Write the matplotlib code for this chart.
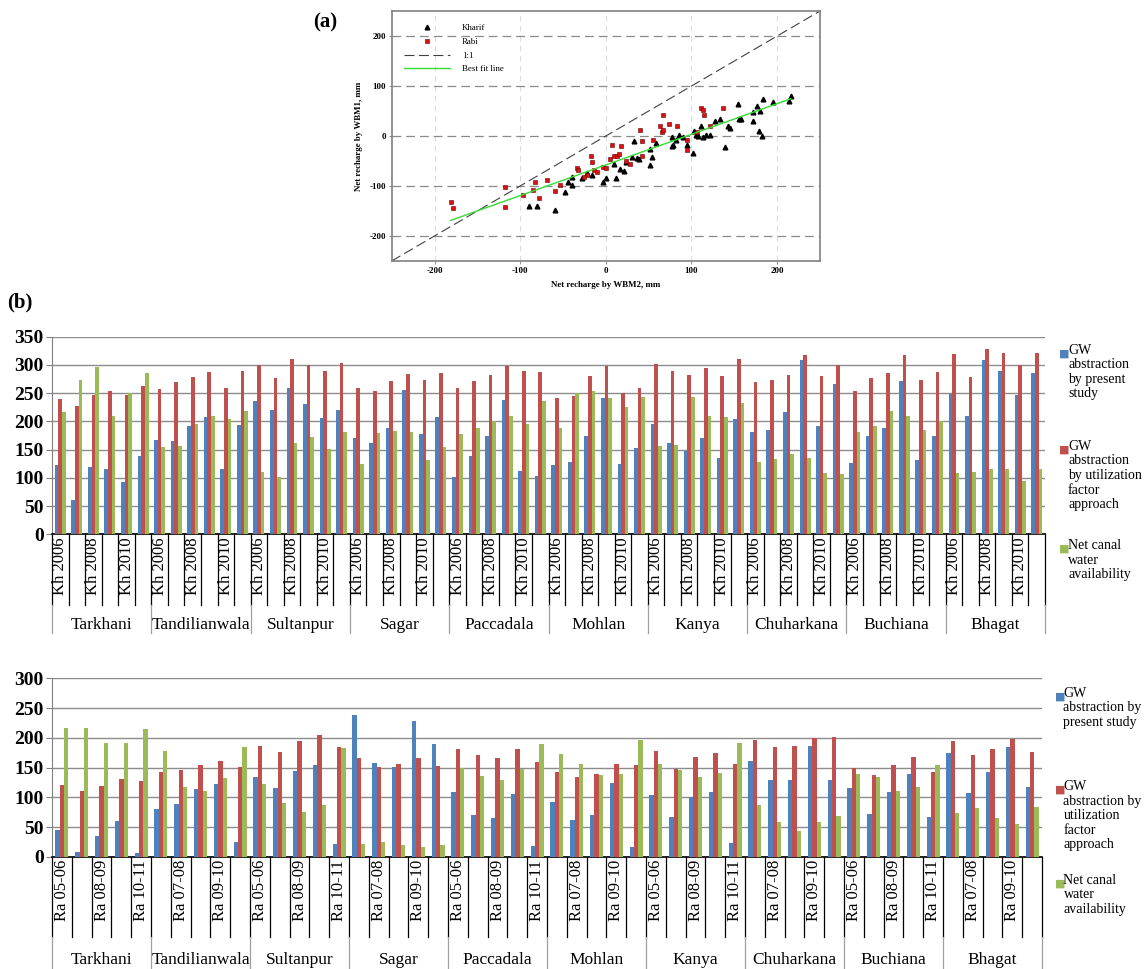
import numpy as np
import matplotlib
matplotlib.use('Agg')
import matplotlib.pyplot as plt
import matplotlib.transforms as mtransforms

plt.rcParams['font.family'] = 'serif'
plt.rcParams['font.serif'] = ['Liberation Serif', 'DejaVu Serif']
plt.rcParams['axes.unicode_minus'] = False

# ---------------- data ----------------
stations = ['Tarkhani', 'Tandilianwala', 'Sultanpur', 'Sagar', 'Paccadala',
            'Mohlan', 'Kanya', 'Chuharkana', 'Buchiana', 'Bhagat']
kh_seasons = ['Kh 2006', 'Kh 2007', 'Kh 2008', 'Kh 2009', 'Kh 2010', 'Kh 2011']
ra_seasons = ['Ra 05-06', 'Ra 07-08', 'Ra 08-09', 'Ra 09-10', 'Ra 10-11']

kh_present = [123, 60, 119, 116, 92, 138,
              167, 165, 191, 207, 116, 194,
              237, 220, 259, 230, 206, 220,
              170, 161, 188, 256, 178, 208,
              102, 138, 175, 238, 112, 103,
              123, 128, 174, 241, 125, 153,
              195, 161, 148, 170, 136, 204,
              181, 185, 217, 309, 192, 267,
              126, 174, 189, 272, 132, 175,
              249, 210, 309, 289, 247, 286]
kh_util = [239, 227, 247, 254, 246, 263,
           258, 270, 279, 287, 260, 290,
           300, 277, 311, 300, 290, 304,
           260, 253, 271, 284, 273, 286,
           260, 272, 283, 298, 289, 287,
           242, 245, 280, 299, 250, 260,
           301, 289, 283, 295, 280, 310,
           270, 274, 283, 318, 280, 300,
           253, 277, 286, 318, 273, 287,
           319, 279, 329, 322, 300, 321]
kh_canal = [217, 274, 296, 210, 251, 286,
            154, 156, 196, 210, 204, 218,
            110, 101, 162, 173, 151, 182,
            125, 179, 183, 181, 132, 154,
            178, 189, 200, 210, 195, 237,
            189, 250, 253, 241, 225, 243,
            156, 158, 243, 210, 207, 232,
            128, 133, 142, 135, 109, 106,
            181, 192, 218, 210, 184, 200,
            109, 110, 115, 115, 94, 115]

ra_present = [45, 9, 36, 61, 7,
              80, 89, 114, 122, 25,
              134, 116, 144, 155, 21,
              238, 157, 151, 228, 190,
              109, 71, 65, 106, 18,
              93, 62, 70, 124, 16,
              104, 67, 101, 109, 24,
              161, 130, 129, 186, 129,
              115, 73, 109, 140, 67,
              175, 107, 142, 184, 118]
ra_util = [121, 110, 119, 131, 128,
           142, 146, 154, 161, 151,
           187, 176, 194, 204, 184,
           166, 151, 156, 167, 153,
           181, 172, 166, 181, 159,
           142, 134, 139, 156, 154,
           178, 148, 168, 175, 156,
           196, 185, 186, 199, 201,
           150, 138, 154, 168, 143,
           195, 171, 182, 198, 176]
ra_canal = [217, 217, 192, 192, 215,
            178, 118, 111, 132, 185,
            122, 90, 75, 88, 183,
            22, 25, 20, 17, 20,
            149, 136, 129, 147, 190,
            173, 156, 137, 139, 196,
            156, 146, 134, 141, 191,
            87, 59, 44, 59, 69,
            140, 134, 111, 118, 154,
            74, 82, 65, 55, 84]

kharif_x = [-90, -80, -59, -48, -44, -39, -39, -28, -22, -16, -3, 0, 10, 12, 17,
            21, 23, 31, 33, 36, 39, 52, 52, 54, 58, 77, 79, 77, 82, 86, 90, 95,
            102, 103, 105, 108, 111, 113, 117, 122, 127, 133, 139, 143, 145, 154,
            155, 158, 172, 172, 177, 179, 180, 182, 184, 195, 214, 216]
kharif_y = [-140, -140, -148, -112, -92, -99, -82, -85, -75, -79, -92, -85, -56,
            -84, -66, -70, -52, -43, -10, -45, -46, -59, -26, -43, -15, -21, -19,
            -2, -8, 1, -3, -19, -34, 11, 2, -1, 21, -2, 2, 1, 31, 35, -22, 21, 17,
            65, 35, 34, 30, 49, 61, 10, 50, 0, 74, 69, 70, 81]
rabi_x = [-181, -179, -118, -118, -97, -83, -85, -78, -69, -59, -54, -34, -33,
          -22, -26, -17, -16, -14, -10, -3, 0, 5, 7, 10, 13, 15, 18, 24, 28, 40,
          42, 42, 55, 63, 66, 67, 67, 74, 83, 95, 95, 111, 113, 115, 106, 122, 137]
rabi_y = [-132, -144, -102, -142, -119, -92, -108, -125, -89, -110, -98, -65, -68,
          -79, -83, -41, -53, -68, -73, -63, -64, -47, -19, -40, -40, -37, -20, -50,
          -56, 12, -10, -41, -8, 21, 9, 43, 13, 24, 20, -28, -9, 57, 52, 42, 9, 21, 57]

c_blue = '#4F81BD'
c_red = '#C0504D'
c_green = '#9BBB59'

fig = plt.figure(figsize=(11.46, 9.69), dpi=100)

# ---------------- panel (a) ----------------
ax_a = fig.add_axes([0.3418, 0.7307, 0.3737, 0.2579])
ax_a.set_xlim(-250, 250)
ax_a.set_ylim(-250, 250)
ax_a.set_xticks([-200, -100, 0, 100, 200])
ax_a.set_yticks([-200, -100, 0, 100, 200])
ax_a.yaxis.grid(True, color='#8a8a8a', linestyle=(0, (7, 4)), linewidth=0.9)
ax_a.xaxis.grid(True, color='#dddddd', linestyle=(0, (5, 4)), linewidth=0.8)
ax_a.set_axisbelow(True)
ax_a.plot([-250, 250], [-250, 250], color='#404040', linestyle=(0, (9, 4)),
          linewidth=0.8, label='1:1', zorder=2)
ax_a.plot(kharif_x, kharif_y, '^', color='black', markersize=3.4,
          linestyle='none', label='Kharif', zorder=3)
ax_a.plot(rabi_x, rabi_y, 's', color='#e01010', markeredgecolor='#600000',
          markeredgewidth=0.4, markersize=3.5, linestyle='none', label='Rabi', zorder=3)
all_x = np.array(kharif_x + rabi_x)
all_y = np.array(kharif_y + rabi_y)
slope, icpt = np.polyfit(all_x, all_y, 1)
fx = np.array([all_x.min(), all_x.max()])
ax_a.plot(fx, slope * fx + icpt, color='#33dd33', linewidth=1.0,
          label='Best fit line', zorder=4)
for s in ax_a.spines.values():
    s.set_color('#808080')
    s.set_linewidth(1.2)
ax_a.tick_params(labelsize=6.5, length=2, width=0.6, color='#808080', pad=2)
for lab in ax_a.get_xticklabels() + ax_a.get_yticklabels():
    lab.set_fontweight('bold')
ax_a.set_xlabel('Net recharge by WBM2, mm', fontsize=6.4, fontweight='bold', labelpad=5)
ax_a.set_ylabel('Net recharge by WBM1, mm', fontsize=6.4, fontweight='bold', labelpad=5)
h, l = ax_a.get_legend_handles_labels()
order = [1, 2, 0, 3]
ax_a.legend([h[i] for i in order], [l[i] for i in order], loc='upper left',
            frameon=False, fontsize=6.4, handlelength=5.2, handletextpad=1.3,
            labelspacing=0.62, bbox_to_anchor=(0.01, 0.98))
fig.text(0.273, 0.977, '(a)', fontsize=15, fontweight='bold', va='center')
fig.text(0.006, 0.688, '(b)', fontsize=15, fontweight='bold', va='center')


# ---------------- bar panels ----------------
def bar_panel(rect, present, util, canal, seasons, ymax, cat_depth, st_depth, st_y):
    ax = fig.add_axes(rect)
    n_per = len(seasons)
    n = n_per * len(stations)
    x = np.arange(n)
    w = 0.22
    ax.bar(x - w, present, w, color=c_blue, zorder=3)
    ax.bar(x, util, w, color=c_red, zorder=3)
    ax.bar(x + w, canal, w, color=c_green, zorder=3)
    ax.set_xlim(-0.5, n - 0.5)
    ax.set_ylim(0, ymax)
    ax.set_yticks(np.arange(0, ymax + 1, 50))
    ax.yaxis.grid(True, color='#8c8c8c', linewidth=1.0)
    ax.set_axisbelow(True)
    for side in ['top', 'right']:
        ax.spines[side].set_visible(False)
    ax.spines['left'].set_color('#808080')
    ax.spines['bottom'].set_linewidth(1.2)
    ax.tick_params(axis='y', labelsize=14, length=4, color='#808080', pad=2)
    for lab in ax.get_yticklabels():
        lab.set_fontweight('bold')
    labels = []
    for st in stations:
        labels += seasons
    shown = [lab if i % 2 == 0 else '' for i, lab in enumerate(labels)]
    ax.set_xticks(x)
    ax.set_xticklabels(shown, rotation=90, fontsize=12)
    ax.tick_params(axis='x', length=0, pad=2)
    trans = mtransforms.blended_transform_factory(ax.transData, ax.transAxes)
    for i in range(n + 1):
        ax.plot([i - 0.5, i - 0.5], [0, -cat_depth], transform=trans,
                color='black', linewidth=0.9, clip_on=False)
    for k, st in enumerate(stations):
        ax.plot([k * n_per - 0.5] * 2, [-cat_depth, -st_depth], transform=trans,
                color='#a0a0a0', linewidth=0.9, clip_on=False)
        ax.text(k * n_per + (n_per - 1) / 2, -st_y, st, transform=trans,
                ha='center', va='center', fontsize=12.5)
    ax.plot([n - 0.5] * 2, [-cat_depth, -st_depth], transform=trans,
            color='#a0a0a0', linewidth=0.9, clip_on=False)
    return ax


bar_panel([0.0454, 0.4486, 0.8665, 0.2039], kh_present, kh_util, kh_canal,
          kh_seasons, 350, 0.36, 0.50, 0.46)
bar_panel([0.0454, 0.1156, 0.8639, 0.1844], ra_present, ra_util, ra_canal,
          ra_seasons, 300, 0.45, 0.64, 0.575)


def legend_block(x, entries):
    for y, color, text in entries:
        fig.text(x, 1 - (y + 2) / 969, '\u25a0', color=color, fontsize=8,
                 family='DejaVu Sans', va='center', ha='left')
        fig.text(x + 0.0075, 1 - (y - 8) / 969, text, fontsize=10,
                 va='top', ha='left', linespacing=1.15)


legend_block(0.9245, [(352, c_blue, 'GW\nabstraction\nby present\nstudy'),
                      (448, c_red, 'GW\nabstraction\nby utilization\nfactor\napproach'),
                      (547, c_green, 'Net canal\nwater\navailability')])
legend_block(0.9205, [(695, c_blue, 'GW\nabstraction by\npresent study'),
                      (788, c_red, 'GW\nabstraction by\nutilization\nfactor\napproach'),
                      (882, c_green, 'Net canal\nwater\navailability')])

fig.savefig('out.png', dpi=100)
